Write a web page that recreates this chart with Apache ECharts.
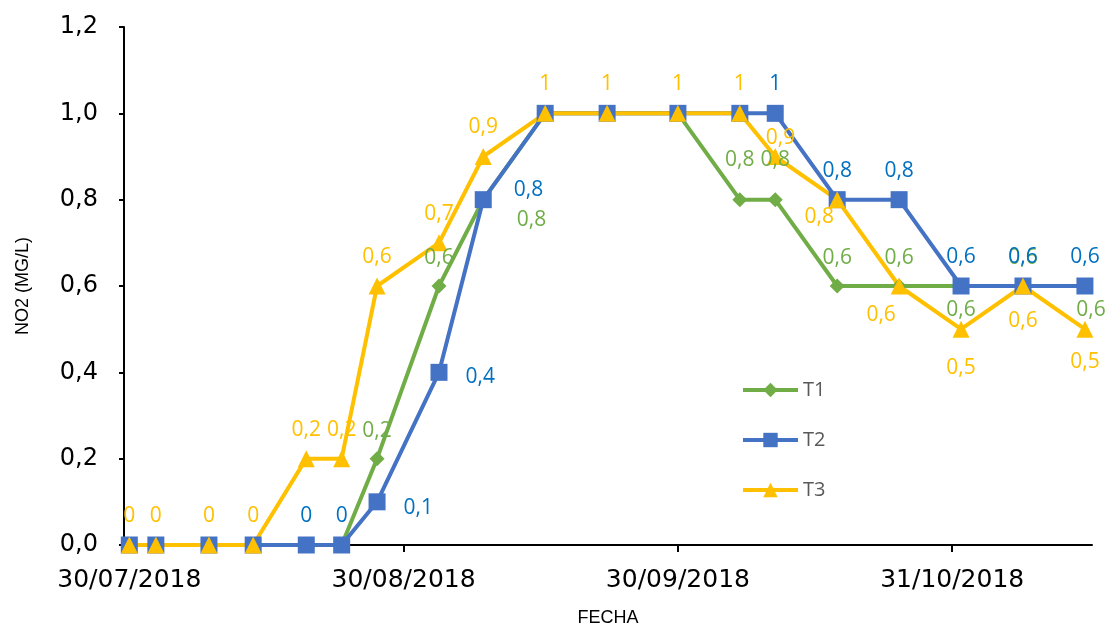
<!DOCTYPE html>
<html>
<head>
<meta charset="utf-8">
<title>NO2</title>
<script src="https://cdn.jsdelivr.net/npm/echarts@6/dist/echarts.min.js"></script>
<style>
  html, body { margin: 0; padding: 0; background: #fff; }
  #chart { width: 1116px; height: 630px; }
</style>
</head>
<body>
<div id="chart"></div>
<script>
// fechas de muestreo
const fechas = [
  "2018-07-30", "2018-08-02", "2018-08-08", "2018-08-13", "2018-08-19",
  "2018-08-23", "2018-08-27", "2018-09-03", "2018-09-08", "2018-09-15",
  "2018-09-22", "2018-09-30", "2018-10-07", "2018-10-11", "2018-10-18",
  "2018-10-25", "2018-11-01", "2018-11-08", "2018-11-15",
];
const t1 = [0, 0, 0, 0, 0, 0, 0.2, 0.6, 0.8, 1, 1, 1, 0.8, 0.8, 0.6, 0.6, 0.6, 0.6, 0.6];
const t2 = [0, 0, 0, 0, 0, 0, 0.1, 0.4, 0.8, 1, 1, 1, 1, 1, 0.8, 0.8, 0.6, 0.6, 0.6];
const t3 = [0, 0, 0, 0, 0.2, 0.2, 0.6, 0.7, 0.9, 1, 1, 1, 1, 0.9, 0.8, 0.6, 0.5, 0.6, 0.5];
const xTicks = ["2018-07-30", "2018-08-30", "2018-09-30", "2018-10-31"];
const yTicks = [0, 0.2, 0.4, 0.6, 0.8, 1.0, 1.2];

const DAY = 86400000;
const toTime = (s) => {
  const p = s.split("-");
  return new Date(+p[0], +p[1] - 1, +p[2]).getTime();
};
const pad = (n) => (n < 10 ? "0" + n : "" + n);
const fmtDate = (v) => {
  const d = new Date(v);
  return pad(d.getDate()) + "/" + pad(d.getMonth() + 1) + "/" + d.getFullYear();
};
const fmtNum = (v) => String(v).replace(".", ",");

// ajustes de etiquetas puntuales (índice -> label)
const labelT1 = {
  0: { show: false }, 1: { show: false }, 2: { show: false }, 3: { show: false },
  4: { show: false }, 5: { show: false },
  8: { position: "right", offset: [16, 20] },
  9: { show: false }, 10: { show: false }, 11: { show: false },
  12: { distance: 22 }, 13: { distance: 22 },
  16: { position: "bottom", distance: 6 },
  18: { position: "bottom", distance: 6, offset: [6, 0] },
};
const labelT2 = {
  0: { show: false }, 1: { show: false }, 2: { show: false }, 3: { show: false },
  6: { position: "right", distance: 18, offset: [0, 6] },
  7: { position: "right", distance: 18, offset: [0, 5] },
  8: { position: "right", distance: 18, offset: [4, -10] },
  9: { show: false }, 10: { show: false }, 11: { show: false }, 12: { show: false },
};
const labelT3 = {
  13: { position: "right", distance: 0, offset: [-18, -18] },
  14: { position: "bottom", offset: [-18, -12] },
  15: { position: "bottom", offset: [-18, 0] },
  16: { position: "bottom", distance: 20 },
  17: { position: "bottom", distance: 16 },
  18: { position: "bottom", distance: 14 },
};

const build = (vals, extra) =>
  vals.map((v, i) => {
    const item = { value: [toTime(fechas[i]), v] };
    if (extra[i]) item.label = extra[i];
    return item;
  });

const mkSeries = (name, vals, extra, color, labelColor, symbol, size) => ({
  name: name,
  type: "line",
  data: build(vals, extra),
  symbol: symbol,
  symbolSize: size,
  lineStyle: { width: 4, color: color },
  itemStyle: { color: color },
  label: {
    show: true,
    position: "top",
    distance: 10,
    color: labelColor,
    fontSize: 21,
    fontFamily: "Open Sans",
    formatter: (p) => fmtNum(p.value[1]),
  },
  animation: false,
});

const chart = echarts.init(document.getElementById("chart"));
const option = {
  animation: false,
  textStyle: { fontFamily: "DejaVu Sans" },
  grid: { left: 124, right: 24, top: 27, bottom: 85, containLabel: false, outerBoundsMode: "none" },
  legend: {
    orient: "vertical",
    left: 736,
    top: 375,
    itemWidth: 55,
    itemHeight: 18,
    itemGap: 30,
    lineStyle: { width: 4 },
    textStyle: { color: "#595959", fontSize: 20, fontFamily: "Open Sans" },
    data: ["T1", "T2", "T3"],
  },
  xAxis: {
    type: "value",
    min: toTime(fechas[0]) - 0.6 * DAY,
    max: toTime(fechas[fechas.length - 1]) + 0.8 * DAY,
    name: "FECHA",
    nameLocation: "middle",
    nameGap: 64,
    nameTextStyle: { color: "#000", fontSize: 18, fontFamily: "Liberation Sans" },
    axisLine: { lineStyle: { color: "#000", width: 2 } },
    axisTick: {
      show: true,
      length: 7,
      lineStyle: { color: "#000", width: 2 },
      customValues: xTicks.map(toTime),
    },
    axisLabel: {
      color: "#000",
      fontSize: 25,
      margin: 23,
      customValues: xTicks.map(toTime),
      formatter: (v) => fmtDate(v),
    },
    splitLine: { show: false },
  },
  yAxis: {
    type: "value",
    min: 0,
    max: 1.2,
    interval: 0.2,
    name: "NO2 (MG/L)",
    nameLocation: "middle",
    nameGap: 92,
    nameTextStyle: { color: "#000", fontSize: 18, fontFamily: "Liberation Sans" },
    axisLine: { show: true, lineStyle: { color: "#000", width: 2 } },
    axisTick: { show: true, length: 5, lineStyle: { color: "#000", width: 2 } },
    axisLabel: {
      color: "#000",
      fontSize: 24,
      margin: 26,
      customValues: yTicks,
      formatter: (v) => v.toFixed(1).replace(".", ","),
    },
    splitLine: { show: false },
  },
  series: [
    mkSeries("T1", t1, labelT1, "#70AD47", "#70AD47", "diamond", 15),
    mkSeries("T2", t2, labelT2, "#4472C4", "#0070C0", "rect", 17),
    mkSeries("T3", t3, labelT3, "#FFC000", "#FFC000", "triangle", 17),
  ],
};
chart.setOption(option);
</script>
</body>
</html>
